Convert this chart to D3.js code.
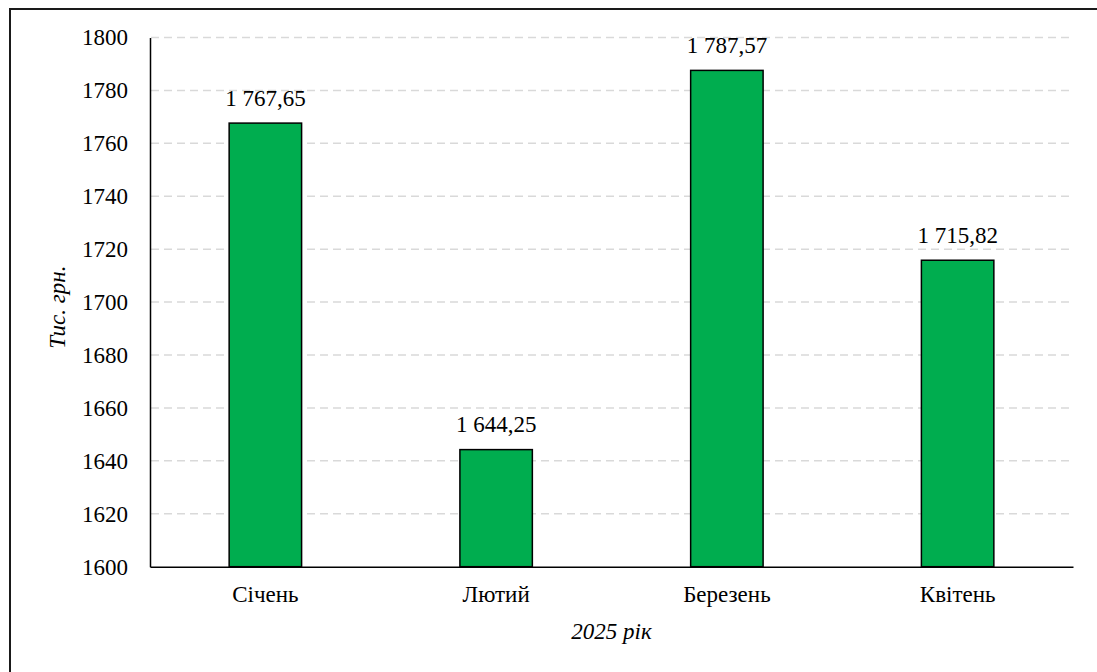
<!DOCTYPE html>
<html>
<head>
<meta charset="utf-8">
<script src="https://cdn.jsdelivr.net/npm/d3@7"></script>
<style>
  html, body { margin: 0; padding: 0; background: #fff; }
  svg { display: block; }
  svg text { font-family: 'Liberation Serif', 'Times New Roman', Times, serif; }
</style>
</head>
<body>
<svg id="chart" width="1097" height="672"></svg>
<script>
// Monthly values, thousand UAH (2025)
const months = ["Січень", "Лютий", "Березень", "Квітень"];
const values = [1767.65, 1644.25, 1787.57, 1715.82];
const valueLabels = ["1 767,65", "1 644,25", "1 787,57", "1 715,82"];
const yTicks = [1600, 1620, 1640, 1660, 1680, 1700, 1720, 1740, 1760, 1780, 1800];
const yTitle = "Тис. грн.";
const xTitle = "2025 рік";

const FONT = "'Liberation Serif', 'Times New Roman', Times, serif";
const FS = 23;

const svg = d3.select("#chart")
  .attr("font-family", FONT);
const plot = { left: 150, right: 1073, top: 37.5, bottom: 566.7 };

// outer frame (right and bottom edges sit outside the view)
svg.append("rect")
  .attr("x", 10).attr("y", 9)
  .attr("width", 1200).attr("height", 800)
  .attr("fill", "none")
  .attr("stroke", "#1a1a1a")
  .attr("stroke-width", 2);

const x = d3.scaleBand()
  .domain(months)
  .range([plot.left, plot.right])
  .paddingInner(0.686)
  .paddingOuter(0.343);

const y = d3.scaleLinear()
  .domain([1600, 1800])
  .range([plot.bottom, plot.top]);

// dashed horizontal gridlines
svg.append("g")
  .selectAll("line")
  .data(yTicks.filter(t => t > 1600))
  .join("line")
  .attr("x1", plot.left + 1).attr("x2", plot.right - 4)
  .attr("y1", d => y(d)).attr("y2", d => y(d))
  .attr("stroke", "#d9d9d9")
  .attr("stroke-width", 1.5)
  .attr("stroke-dasharray", "8,5");

// y axis
const yAxis = svg.append("g")
  .attr("transform", `translate(${plot.left},0)`)
  .call(d3.axisLeft(y).tickValues(yTicks).tickSize(0).tickPadding(22).tickFormat(d3.format("d")));
yAxis.attr("font-family", FONT).attr("font-size", FS);
yAxis.select(".domain").attr("stroke", "#000").attr("stroke-width", 1.5);
yAxis.selectAll("text").attr("fill", "#000");

// bars
svg.append("g")
  .selectAll("rect")
  .data(values)
  .join("rect")
  .attr("x", (d, i) => x(months[i]))
  .attr("y", d => y(d))
  .attr("width", x.bandwidth())
  .attr("height", d => y(1600) - y(d))
  .attr("fill", "#00AD4F")
  .attr("stroke", "#000")
  .attr("stroke-width", 1.5);

// value labels
svg.append("g")
  .attr("font-family", FONT)
  .attr("font-size", FS)
  .selectAll("text")
  .data(values)
  .join("text")
  .attr("x", (d, i) => x(months[i]) + x.bandwidth() / 2)
  .attr("y", d => y(d) - 17.5)
  .attr("text-anchor", "middle")
  .attr("fill", "#000")
  .text((d, i) => valueLabels[i]);

// x axis
const xAxis = svg.append("g")
  .attr("transform", `translate(0,${plot.bottom})`)
  .call(d3.axisBottom(x).tickSize(0).tickPadding(0));
xAxis.attr("font-family", FONT).attr("font-size", FS);
xAxis.select(".domain").attr("stroke", "#000").attr("stroke-width", 1.5);
xAxis.selectAll("text")
  .attr("y", 35.5)
  .attr("dy", null)
  .attr("fill", "#000");

// axis titles
svg.append("text")
  .attr("x", (plot.left + plot.right) / 2)
  .attr("y", 639)
  .attr("text-anchor", "middle")
  .attr("font-family", FONT)
  .attr("font-size", FS)
  .attr("font-style", "italic")
  .attr("fill", "#000")
  .text(xTitle);

svg.append("text")
  .attr("transform", `translate(65,${(plot.top + plot.bottom) / 2 + 5}) rotate(-90)`)
  .attr("text-anchor", "middle")
  .attr("font-family", FONT)
  .attr("font-size", FS)
  .attr("font-style", "italic")
  .attr("fill", "#000")
  .text(yTitle);
</script>
</body>
</html>
